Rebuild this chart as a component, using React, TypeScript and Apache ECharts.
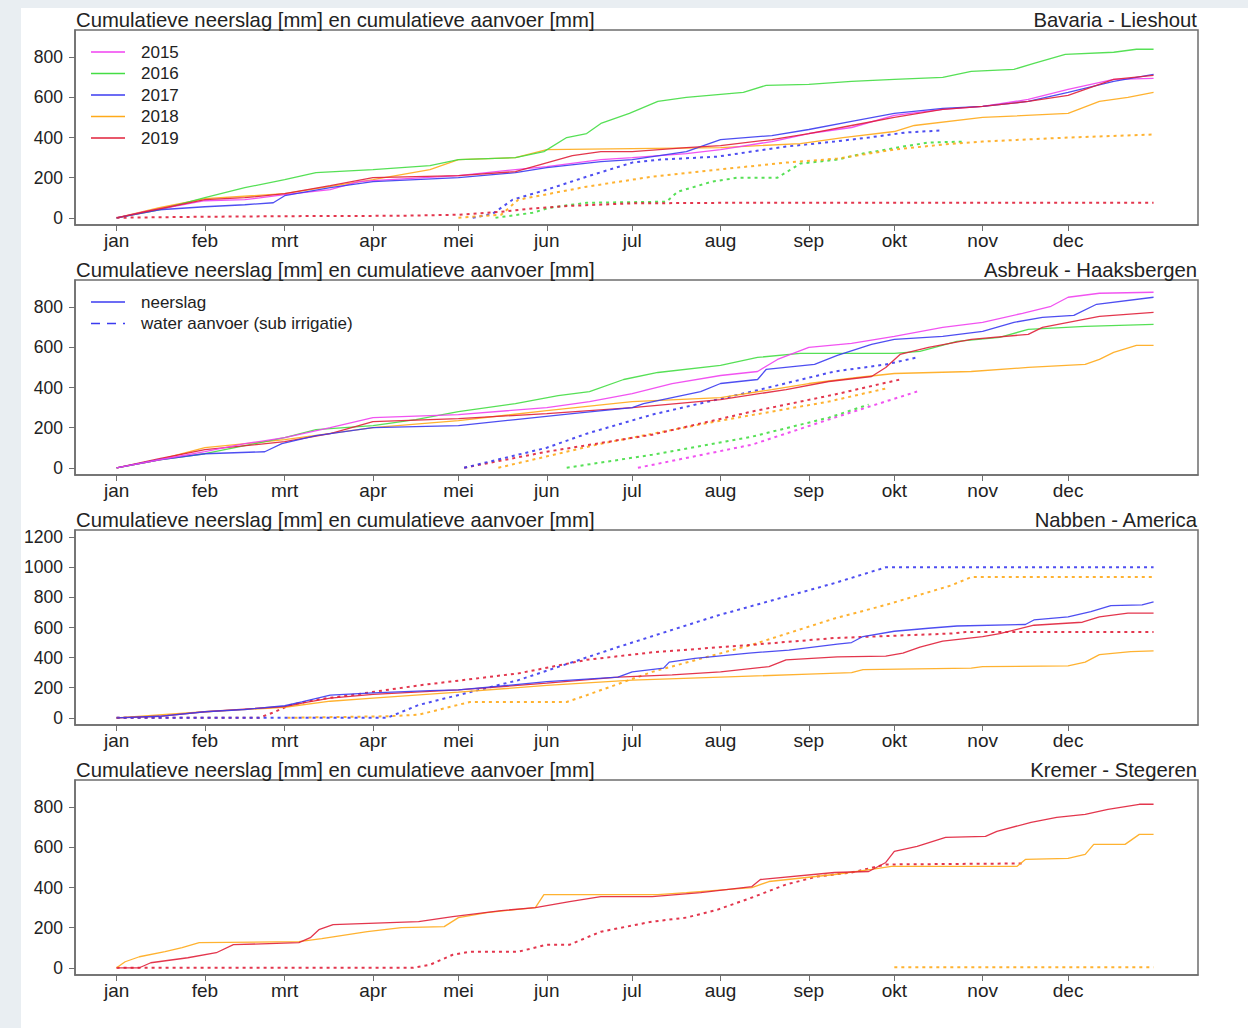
import React, { useEffect, useRef } from "react";
import * as echarts from "echarts";

// ---------- axis / text data ----------
const MONTHS = ["jan", "feb", "mrt", "apr", "mei", "jun", "jul", "aug", "sep", "okt", "nov", "dec"];
const MONTH_START_DAYS = [0, 31, 59, 90, 120, 151, 181, 212, 243, 273, 304, 334];
const Y_TICKS_800 = [0, 200, 400, 600, 800];
const Y_TICKS_1200 = [0, 200, 400, 600, 800, 1000, 1200];
const PANEL_TITLE = "Cumulatieve neerslag [mm] en cumulatieve aanvoer [mm]";
const LOCATIONS = ["Bavaria - Lieshout", "Asbreuk - Haaksbergen", "Nabben - America", "Kremer - Stegeren"];
const Y_LIMITS = [900, 900, 1200, 900];
const YEARS = ["2015", "2016", "2017", "2018", "2019"];
const LEGEND_TYPES = ["neerslag", "water aanvoer (sub irrigatie)"];

// ---------- series data: [day of year, cumulative mm] ----------
// Panel 1: Bavaria - Lieshout
const P1_RAIN_2015 = [[0,0],[10,30],[31,85],[45,90],[59,115],[75,140],[85,180],[90,185],[120,210],[140,240],[151,255],[170,290],[181,300],[200,320],[212,340],[230,380],[243,420],[258,450],[273,510],[290,540],[304,555],[320,590],[334,640],[350,690],[364,695]];
const P1_RAIN_2016 = [[0,0],[15,40],[31,100],[45,150],[59,190],[70,225],[90,240],[110,260],[120,290],[140,300],[150,330],[158,400],[165,420],[170,470],[180,520],[190,580],[200,600],[212,615],[220,625],[228,660],[243,665],[258,680],[273,690],[290,700],[300,730],[315,740],[322,770],[333,815],[350,825],[358,840],[364,840]];
const P1_RAIN_2017 = [[0,0],[15,40],[31,55],[45,65],[55,75],[59,110],[75,150],[90,180],[120,200],[140,225],[151,250],[170,280],[181,290],[200,330],[212,390],[230,410],[243,440],[258,480],[273,520],[290,545],[304,555],[320,580],[334,625],[350,680],[364,715]];
const P1_RAIN_2018 = [[0,0],[15,50],[31,95],[59,120],[90,190],[110,240],[120,290],[140,300],[151,340],[181,345],[212,350],[240,370],[255,400],[273,430],[280,460],[304,500],[334,520],[345,580],[355,600],[364,625]];
const P1_RAIN_2019 = [[0,0],[10,30],[31,90],[45,100],[59,120],[75,160],[90,200],[120,210],[140,230],[150,270],[160,310],[170,330],[181,330],[200,350],[212,360],[230,390],[243,420],[258,460],[273,500],[290,540],[304,555],[320,580],[334,610],[350,690],[364,710]];
const P1_SUP_2016 = [[133,0],[146,25],[152,50],[165,75],[193,80],[197,130],[209,180],[218,200],[232,200],[240,270],[253,290],[262,320],[276,355],[285,375],[298,380]];
const P1_SUP_2017 = [[125,0],[132,20],[139,90],[151,140],[165,205],[181,275],[191,290],[211,305],[235,355],[252,380],[264,400],[277,425],[289,435]];
const P1_SUP_2018 = [[120,0],[135,15],[141,90],[165,155],[188,205],[211,240],[235,275],[253,295],[273,340],[290,365],[304,380],[334,400],[364,415]];
const P1_SUP_2019 = [[0,0],[30,5],[60,8],[100,10],[120,15],[135,30],[145,45],[160,60],[181,72],[220,75],[364,75]];

// Panel 2: Asbreuk - Haaksbergen
const P2_RAIN_2015 = [[0,0],[15,40],[31,80],[45,120],[59,150],[75,200],[90,250],[120,265],[151,300],[166,330],[181,370],[195,420],[212,460],[225,480],[232,540],[243,600],[258,620],[273,655],[290,700],[304,725],[318,770],[328,805],[334,850],[345,870],[364,875]];
const P2_RAIN_2016 = [[0,0],[15,40],[31,70],[45,110],[59,150],[70,190],[90,210],[105,240],[120,280],[140,320],[155,360],[166,380],[178,440],[190,475],[212,510],[225,550],[240,570],[273,570],[282,580],[295,630],[310,650],[320,690],[340,705],[364,715]];
const P2_RAIN_2017 = [[0,0],[15,40],[31,70],[52,80],[58,120],[70,160],[90,200],[120,210],[140,240],[160,270],[181,300],[185,320],[195,350],[205,380],[212,420],[225,440],[228,490],[245,515],[253,560],[265,615],[273,640],[290,655],[304,680],[315,725],[325,750],[336,760],[344,815],[364,850]];
const P2_RAIN_2018 = [[0,0],[15,40],[31,100],[59,140],[90,200],[120,235],[151,285],[181,330],[212,350],[230,390],[243,420],[260,450],[273,470],[300,480],[320,500],[340,515],[345,540],[350,575],[358,610],[364,610]];
const P2_RAIN_2019 = [[0,0],[15,45],[31,90],[59,130],[75,170],[90,230],[120,245],[151,270],[181,300],[212,340],[235,390],[250,430],[265,455],[270,500],[275,565],[285,600],[300,640],[320,665],[325,700],[345,755],[364,775]];
const P2_SUP_2015 = [[183,0],[223,115],[252,250],[281,380]];
const P2_SUP_2016 = [[158,0],[188,65],[223,155],[250,250],[264,315]];
const P2_SUP_2017 = [[122,0],[151,100],[165,170],[188,265],[223,380],[252,480],[270,515],[281,550]];
const P2_SUP_2018 = [[134,0],[170,120],[210,230],[250,330],[270,395]];
const P2_SUP_2019 = [[122,0],[151,80],[188,165],[223,280],[252,365],[275,440]];

// Panel 3: Nabben - America
const P3_RAIN_2017 = [[0,0],[15,10],[31,40],[45,55],[59,80],[65,105],[75,150],[90,165],[110,180],[120,185],[151,240],[176,270],[181,305],[192,330],[194,370],[203,395],[222,430],[236,450],[253,490],[258,500],[262,540],[273,575],[285,595],[295,610],[319,620],[322,650],[334,670],[342,705],[349,745],[360,750],[364,770]];
const P3_RAIN_2018 = [[0,0],[31,40],[59,70],[75,110],[90,130],[120,170],[151,215],[181,250],[212,270],[243,290],[258,300],[262,320],[300,330],[304,340],[334,345],[340,370],[345,420],[356,440],[364,445]];
const P3_RAIN_2019 = [[0,0],[15,10],[31,40],[59,75],[66,100],[75,130],[90,155],[120,185],[151,230],[176,270],[195,285],[212,305],[229,340],[235,385],[253,405],[270,410],[276,430],[282,470],[290,510],[304,540],[310,560],[322,615],[339,635],[345,670],[355,695],[364,695]];
const P3_SUP_2017 = [[0,0],[95,0],[106,85],[141,250],[176,470],[211,680],[252,895],[270,1000],[364,1000]];
const P3_SUP_2018 = [[60,0],[95,10],[106,20],[124,105],[158,105],[165,150],[188,305],[223,485],[252,660],[270,750],[293,880],[300,935],[364,935]];
const P3_SUP_2019 = [[0,0],[50,0],[55,35],[61,85],[70,120],[82,150],[106,215],[141,295],[165,385],[188,435],[223,485],[252,530],[293,560],[298,570],[364,570]];

// Panel 4: Kremer - Stegeren
const P4_RAIN_2018 = [[0,0],[3,30],[8,55],[17,80],[23,100],[29,125],[64,130],[72,145],[88,180],[100,200],[115,205],[120,250],[130,275],[147,300],[150,365],[190,365],[200,375],[223,400],[229,430],[252,465],[265,490],[272,505],[316,505],[319,540],[334,545],[340,565],[343,615],[354,615],[359,665],[364,665]];
const P4_RAIN_2019 = [[0,0],[8,0],[12,25],[25,50],[35,75],[41,115],[64,125],[68,150],[71,190],[76,215],[106,230],[118,255],[135,285],[147,300],[159,330],[170,355],[188,355],[205,375],[223,405],[226,440],[252,475],[264,480],[270,525],[273,580],[281,605],[291,650],[305,655],[309,680],[321,725],[330,750],[340,765],[348,790],[359,815],[364,815]];
const P4_SUP_2018 = [[273,3],[364,3]];
const P4_SUP_2019 = [[0,0],[104,0],[110,15],[118,65],[124,80],[141,80],[151,115],[159,115],[170,180],[188,230],[200,250],[211,290],[223,350],[235,415],[246,455],[258,475],[270,515],[318,520]];

// ---------- styles ----------
const FONT = '"Liberation Sans", Arial, Helvetica, sans-serif';
const COLORS: Record<string, string> = {
  "2015": "#f040f0",
  "2016": "#44dd44",
  "2017": "#3b3bf0",
  "2018": "#ffaa1a",
  "2019": "#e0203a",
};
const TEXT_COLOR = "#222";
const BOX_COLOR = "#6e6e6e";

type S = { panel: number; year: string; sup: boolean; data: number[][] };
const SERIES: S[] = [
  { panel: 0, year: "2016", sup: true, data: P1_SUP_2016 },
  { panel: 0, year: "2017", sup: true, data: P1_SUP_2017 },
  { panel: 0, year: "2018", sup: true, data: P1_SUP_2018 },
  { panel: 0, year: "2019", sup: true, data: P1_SUP_2019 },
  { panel: 0, year: "2018", sup: false, data: P1_RAIN_2018 },
  { panel: 0, year: "2016", sup: false, data: P1_RAIN_2016 },
  { panel: 0, year: "2015", sup: false, data: P1_RAIN_2015 },
  { panel: 0, year: "2017", sup: false, data: P1_RAIN_2017 },
  { panel: 0, year: "2019", sup: false, data: P1_RAIN_2019 },

  { panel: 1, year: "2015", sup: true, data: P2_SUP_2015 },
  { panel: 1, year: "2016", sup: true, data: P2_SUP_2016 },
  { panel: 1, year: "2018", sup: true, data: P2_SUP_2018 },
  { panel: 1, year: "2019", sup: true, data: P2_SUP_2019 },
  { panel: 1, year: "2017", sup: true, data: P2_SUP_2017 },
  { panel: 1, year: "2018", sup: false, data: P2_RAIN_2018 },
  { panel: 1, year: "2016", sup: false, data: P2_RAIN_2016 },
  { panel: 1, year: "2019", sup: false, data: P2_RAIN_2019 },
  { panel: 1, year: "2017", sup: false, data: P2_RAIN_2017 },
  { panel: 1, year: "2015", sup: false, data: P2_RAIN_2015 },

  { panel: 2, year: "2018", sup: true, data: P3_SUP_2018 },
  { panel: 2, year: "2019", sup: true, data: P3_SUP_2019 },
  { panel: 2, year: "2017", sup: true, data: P3_SUP_2017 },
  { panel: 2, year: "2018", sup: false, data: P3_RAIN_2018 },
  { panel: 2, year: "2019", sup: false, data: P3_RAIN_2019 },
  { panel: 2, year: "2017", sup: false, data: P3_RAIN_2017 },

  { panel: 3, year: "2018", sup: true, data: P4_SUP_2018 },
  { panel: 3, year: "2019", sup: true, data: P4_SUP_2019 },
  { panel: 3, year: "2018", sup: false, data: P4_RAIN_2018 },
  { panel: 3, year: "2019", sup: false, data: P4_RAIN_2019 },
];

const GRID_LEFT = 75;
const GRID_WIDTH = 1123;
const GRID_TOP0 = 30;
const GRID_STEP = 250;
const GRID_HEIGHT = 195;

function buildOption(): echarts.EChartsOption {
  const grids: any[] = [];
  const xAxes: any[] = [];
  const yAxes: any[] = [];
  const graphics: any[] = [
    { type: "rect", z: -10, shape: { x: 0, y: 0, width: 21, height: 1028 }, style: { fill: "#e9eef2" } },
    { type: "rect", z: -10, shape: { x: 0, y: 0, width: 1248, height: 8 }, style: { fill: "#e9eef2" } },
  ];

  LOCATIONS.forEach((loc, i) => {
    const top = GRID_TOP0 + GRID_STEP * i;
    const lim = Y_LIMITS[i];
    grids.push({
      left: GRID_LEFT,
      top,
      width: GRID_WIDTH,
      height: GRID_HEIGHT,
      show: true,
      borderColor: BOX_COLOR,
      borderWidth: 1.5,
    });
    xAxes.push({
      type: "value",
      gridIndex: i,
      min: -0.04 * 365,
      max: 365 * 1.04,
      splitLine: { show: false },
      axisLine: { show: true, onZero: false, lineStyle: { color: BOX_COLOR, width: 1.5 } },
      axisTick: { show: true, customValues: MONTH_START_DAYS, length: 6, lineStyle: { color: BOX_COLOR } },
      axisLabel: {
        customValues: MONTH_START_DAYS,
        formatter: (v: number) => MONTHS[MONTH_START_DAYS.indexOf(Math.round(v))] ?? "",
        fontSize: 19,
        fontFamily: FONT,
        color: TEXT_COLOR,
        margin: 6,
      },
    });
    const ticks = lim === 1200 ? Y_TICKS_1200 : Y_TICKS_800;
    yAxes.push({
      type: "value",
      gridIndex: i,
      min: -0.04 * lim,
      max: lim * 1.04,
      splitLine: { show: false },
      axisLine: { show: true, onZero: false, lineStyle: { color: BOX_COLOR, width: 1.5 } },
      axisTick: { show: true, customValues: ticks, length: 6, lineStyle: { color: BOX_COLOR } },
      axisLabel: {
        customValues: ticks,
        formatter: (v: number) => String(Math.round(v)),
        fontSize: 17.5,
        fontFamily: FONT,
        color: TEXT_COLOR,
        margin: 12,
      },
    });
    graphics.push({
      type: "text",
      x: 76,
      y: top - 10,
      style: { text: PANEL_TITLE, fontSize: 20.3, fontFamily: FONT, fill: TEXT_COLOR, align: "left", verticalAlign: "middle" },
    });
    graphics.push({
      type: "text",
      x: GRID_LEFT + GRID_WIDTH - 1,
      y: top - 10,
      style: { text: loc, fontSize: 20.3, fontFamily: FONT, fill: TEXT_COLOR, align: "right", verticalAlign: "middle" },
    });
  });

  // legend panel 1 (years)
  YEARS.forEach((yr, k) => {
    const y = 52 + k * 21.5;
    graphics.push({ type: "line", shape: { x1: 91, y1: y, x2: 125, y2: y }, style: { stroke: COLORS[yr], lineWidth: 1.6 } });
    graphics.push({
      type: "text",
      x: 141,
      y,
      style: { text: yr, fontSize: 17, fontFamily: FONT, fill: TEXT_COLOR, verticalAlign: "middle" },
    });
  });
  // legend panel 2 (line types)
  LEGEND_TYPES.forEach((t, k) => {
    const y = 302 + k * 21.5;
    graphics.push({
      type: "line",
      shape: { x1: 91, y1: y, x2: 125, y2: y },
      style: { stroke: COLORS["2017"], lineWidth: 1.6, lineDash: k === 1 ? [9, 7] : null },
    });
    graphics.push({
      type: "text",
      x: 141,
      y,
      style: { text: t, fontSize: 17, fontFamily: FONT, fill: TEXT_COLOR, verticalAlign: "middle" },
    });
  });

  const series = SERIES.map((s) => ({
    type: "line",
    name: `${LOCATIONS[s.panel]} ${s.year} ${s.sup ? "aanvoer" : "neerslag"}`,
    xAxisIndex: s.panel,
    yAxisIndex: s.panel,
    data: s.data,
    showSymbol: false,
    symbol: "none",
    silent: true,
    lineStyle: s.sup
      ? { color: COLORS[s.year], width: 2, type: [3, 4] as any, opacity: 0.9 }
      : { color: COLORS[s.year], width: 1.3, opacity: 0.9 },
  }));

  return {
    animation: false,
    backgroundColor: "#ffffff",
    grid: grids,
    xAxis: xAxes,
    yAxis: yAxes,
    series: series as any,
    graphic: graphics,
  };
}

export default function App() {
  const ref = useRef<HTMLDivElement>(null);
  useEffect(() => {
    if (!ref.current) return;
    const chart = echarts.init(ref.current, undefined, { renderer: "svg" });
    chart.setOption(buildOption());
    return () => chart.dispose();
  }, []);
  return (
    <div
      ref={ref}
      style={{ position: "absolute", left: 0, top: 0, width: 1248, height: 1028, background: "#fff" }}
    />
  );
}
